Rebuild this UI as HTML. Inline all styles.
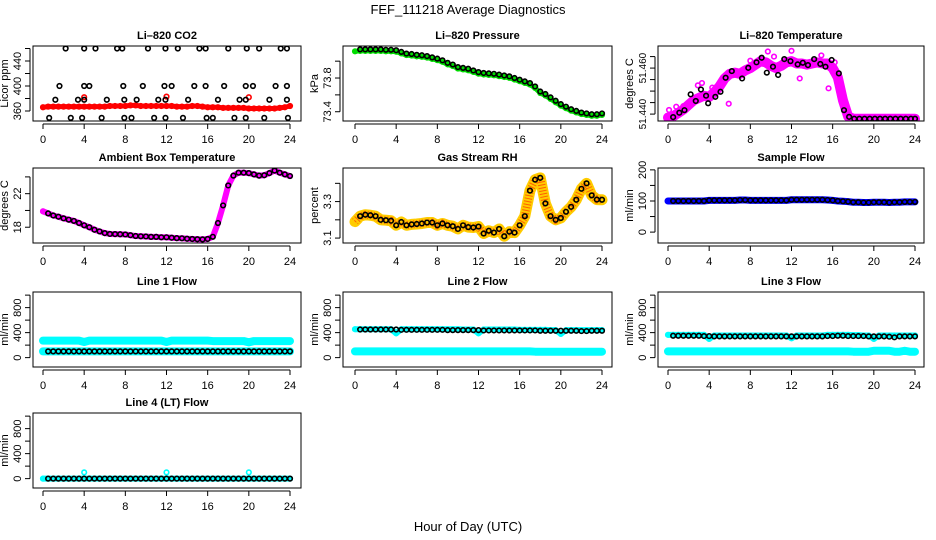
<!DOCTYPE html>
<html><head><meta charset="utf-8"><style>
html,body{margin:0;padding:0;background:#fff;}
svg{display:block;font-family:"Liberation Sans",Arial,sans-serif;}
</style></head><body>
<svg id="c" width="936" height="540" viewBox="0 0 936 540">
<text x="468" y="14" text-anchor="middle" font-size="13">FEF_111218  Average Diagnostics</text>
<text x="468" y="531" text-anchor="middle" font-size="13">Hour of Day (UTC)</text>
</svg>
<script>
const hours=[0,0.5,1,1.5,2,2.5,3,3.5,4,4.5,5,5.5,6,6.5,7,7.5,8,8.5,9,9.5,10,10.5,11,11.5,12,12.5,13,13.5,14,14.5,15,15.5,16,16.5,17,17.5,18,18.5,19,19.5,20,20.5,21,21.5,22,22.5,23,23.5,24];
const xTicks=[0,4,8,12,16,20,24];
const co2Red=[366,367,367,367,367,367,367,367,367,367,367,367,367,368,368,368,368,369,369,368,368,368,368,368,368,368,367,367,367,368,368,367,366,366,366,365,365,365,365,365,364,364,364,364,364,364,365,366,368];
const co2RedOutT=[4,12,20];
const co2RedOutV=[382,383,382];
const co2BlackT=[2.2,4.0,5.1,7.2,7.7,10.2,11.9,13.1,15.2,15.8,18.0,19.8,21.0,23.1,23.7,1.6,4.0,4.5,7.8,9.7,11.8,12.5,14.7,15.8,17.6,19.7,20.4,22.6,23.7,1.2,3.4,4.0,6.2,7.9,9.1,11.2,11.9,14.1,17.0,19.1,19.7,22.0,23.7,0.6,2.7,3.8,5.7,7.9,8.6,10.8,11.9,13.6,15.9,16.5,18.6,19.7,21.5,23.8];
const co2BlackV=[460,460,460,460,460,460,460,460,460,460,460,460,460,460,460,400,400,400,400,400,400,400,400,400,400,400,400,400,400,378,378,378,378,378,378,378,378,378,378,378,378,378,378,349,349,349,349,349,349,349,349,349,349,349,349,349,349,349];
const pressure=[74.135,74.14,74.14,74.14,74.14,74.14,74.135,74.135,74.13,74.11,74.09,74.085,74.075,74.07,74.06,74.045,74.03,74.01,73.98,73.96,73.93,73.92,73.91,73.89,73.87,73.86,73.855,73.85,73.84,73.83,73.82,73.80,73.78,73.76,73.74,73.70,73.64,73.61,73.57,73.53,73.49,73.46,73.43,73.41,73.39,73.38,73.37,73.37,73.38];
const liTemp=[51.4385,51.439,51.4405,51.442,51.444,51.446,51.447,51.448,51.4475,51.4495,51.452,51.4555,51.4575,51.458,51.4575,51.459,51.460,51.4615,51.463,51.4625,51.461,51.460,51.461,51.4625,51.463,51.462,51.462,51.4615,51.462,51.4625,51.462,51.462,51.460,51.456,51.446,51.439,51.438,51.438,51.438,51.438,51.438,51.438,51.438,51.438,51.438,51.438,51.438,51.438,51.438];
const liTempBlackT=[0.5,1.1,1.6,2.2,2.7,3.2,3.7,3.9,4.6,5.1,5.6,6.2,7.2,7.8,8.6,9.1,9.6,10.2,10.7,11.3,11.9,12.6,13.1,13.6,14.2,14.8,15.3,15.9,16.6,17.1,17.6,18.1,18.6,19.1,19.6,20.1,20.6,21.1,21.6,22.1,22.6,23.1,23.6,24];
const liTempBlackV=[51.4387,51.4406,51.4417,51.4486,51.4457,51.4507,51.448,51.4447,51.4475,51.4497,51.4558,51.4587,51.4555,51.4601,51.4625,51.4645,51.458,51.4606,51.457,51.4639,51.463,51.4616,51.4623,51.4613,51.4639,51.4618,51.4606,51.4635,51.4577,51.4417,51.4388,51.438,51.438,51.438,51.438,51.438,51.438,51.438,51.438,51.438,51.438,51.438,51.438,51.438];
const liTempOutT=[0.1,0.8,1.5,2.9,3.3,4.3,5.9,8.0,9.7,10.3,12.0,12.8,14.9,15.6,16.2,16.9];
const liTempOutV=[51.4418,51.4432,51.4435,51.4525,51.4535,51.4515,51.4445,51.4632,51.4672,51.4650,51.4675,51.4555,51.4655,51.4512,51.4625,51.4502];
const ambient=[19.9,19.65,19.4,19.25,19.06,18.9,18.75,18.5,18.23,18.0,17.7,17.5,17.3,17.2,17.18,17.16,17.14,17.05,16.95,16.92,16.9,16.85,16.85,16.8,16.8,16.75,16.7,16.68,16.63,16.6,16.57,16.55,16.6,16.86,18.5,20.6,22.98,24.15,24.5,24.5,24.45,24.3,24.15,24.2,24.45,24.75,24.5,24.3,24.1];
const rh=[3.19,3.22,3.228,3.225,3.22,3.20,3.198,3.195,3.17,3.188,3.17,3.175,3.177,3.18,3.185,3.185,3.17,3.18,3.17,3.165,3.15,3.17,3.16,3.158,3.163,3.125,3.14,3.13,3.15,3.11,3.135,3.13,3.17,3.22,3.36,3.42,3.43,3.29,3.22,3.20,3.21,3.244,3.271,3.31,3.37,3.40,3.334,3.311,3.31];
const sampleFlow=[100,100,100,100,100,100,100,100,102,102,102,102,102,102,103,103,102,102,102,102,102,102,102,102,104,104,104,104,104,104,104,103,102,100,99,98,96,96,95,95,96,96,96,95,96,96,97,97,97];
const line1Upper=[272,272,272,272,272,272,272,272,250,272,272,272,272,272,272,272,272,272,272,272,272,272,272,272,250,272,272,272,272,272,272,272,272,265,265,265,265,265,265,265,245,265,265,265,265,265,265,265,265];
const line1Lower=[100,100,100,100,100,100,100,100,100,100,100,100,100,100,100,100,100,100,100,100,100,100,100,100,100,100,100,100,100,100,100,100,100,100,100,100,100,100,100,100,100,100,100,100,100,100,100,100,100];
const line1Black=[100,100,100,100,100,100,100,100,100,100,100,100,100,100,100,100,100,100,100,100,100,100,100,100,100,100,100,100,100,100,100,100,100,100,100,100,100,100,100,100,100,100,100,100,100,100,100,100,100];
const line2Upper=[455,455,455,455,455,455,455,455,390,455,455,455,455,455,455,455,455,455,455,455,455,450,450,450,390,450,450,450,450,450,450,450,445,445,445,445,445,445,440,440,380,440,440,440,440,440,440,440,440];
const line2Lower=[100,100,100,100,100,100,100,100,100,100,100,100,100,100,100,100,100,100,100,100,100,100,100,100,100,100,100,100,100,100,100,100,100,100,100,95,95,95,95,95,95,95,95,95,95,95,95,95,95];
const line2Black=[450,450,450,450,450,450,450,450,450,445,445,445,445,445,445,445,445,445,440,440,440,440,440,440,440,435,435,435,435,435,435,435,435,435,435,435,430,430,430,430,430,430,430,430,425,425,430,430,430];
const line3Upper=[365,365,365,365,365,365,365,365,300,355,355,355,355,355,355,355,355,355,355,355,355,355,355,355,310,355,355,355,355,355,355,365,365,365,365,365,360,360,355,355,300,355,355,355,355,355,355,355,355];
const line3Lower=[100,100,100,100,100,100,100,100,100,100,100,100,100,100,100,100,100,100,100,100,100,100,100,100,100,100,100,100,100,100,100,100,100,100,100,100,95,95,95,95,110,110,110,110,95,95,110,95,95];
const line3Black=[350,350,350,350,350,350,350,345,345,340,340,340,340,340,340,340,340,340,340,340,340,340,340,340,340,340,340,340,340,340,340,345,345,350,350,345,345,345,345,340,340,340,340,335,325,340,340,340,340];
const line4Cyan=[0,0,0,0,0,0,0,0,0,0,0,0,0,0,0,0,0,0,0,0,0,0,0,0,0,0,0,0,0,0,0,0,0,0,0,0,0,0,0,0,0,0,0,0,0,0,0,0,0];
const line4OutT=[4,12,20];
const line4OutV=[100,100,100];
const line4Black=[0,0,0,0,0,0,0,0,0,0,0,0,0,0,0,0,0,0,0,0,0,0,0,0,0,0,0,0,0,0,0,0,0,0,0,0,0,0,0,0,0,0,0,0,0,0,0,0,0];

const NS="http://www.w3.org/2000/svg";
const svg=document.getElementById('c');
const BL=[33,343,658],BR=[301,612,924],X0=[43,355,668],XW=247,TOP=[46,168,292,413],H=75;
function el(t,a,p){const e=document.createElementNS(NS,t);for(const k in a)e.setAttribute(k,a[k]);(p||svg).appendChild(e);return e;}
const flowTicks=[0,200,400,600,800,1000],flowLabels=[0,400,800];
const panels=[
 {c:0,r:0,t:"Li\u2013820 CO2",yl:"Licor ppm",y0:344,y1:464,ticks:[360,380,400,420,440,460],labs:[360,400,440],
  s:[{t:hours,v:co2Red,col:"#ff0000",band:5},{t:co2RedOutT,v:co2RedOutV,col:"#ff0000"},{t:co2BlackT,v:co2BlackV,col:"#000"}]},
 {c:1,r:0,t:"Li\u2013820 Pressure",yl:"kPa",y0:73.29,y1:74.18,ticks:[73.4,73.6,73.8,74.0],labs:["73.4","73.8"],
  s:[{t:hours,v:pressure,col:"#00dd00",band:5,off:1.5},{t:hours,v:pressure,col:"#000",skip:1}]},
 {c:2,r:0,t:"Li\u2013820 Temperature",yl:"degrees C",y0:51.437,y1:51.4696,ticks:[51.44,51.445,51.45,51.455,51.46,51.465],labs:["51.440","51.460"],fs:10,
  s:[{t:hours,v:liTemp,col:"#ff00ff",band:10},{t:liTempOutT,v:liTempOutV,col:"#ff00ff"},{t:liTempBlackT,v:liTempBlackV,col:"#000"}]},
 {c:0,r:1,t:"Ambient Box Temperature",yl:"degrees C",y0:16.12,y1:25.06,ticks:[18,20,22,24],labs:[18,22],
  s:[{t:hours,v:ambient,col:"#ff00ff",band:6},{t:hours,v:ambient,col:"#000",skip:1}]},
 {c:1,r:1,t:"Gas Stream RH",yl:"percent",y0:3.073,y1:3.484,ticks:[3.1,3.2,3.3,3.4],labs:["3.1","3.3"],
  s:[{t:hours,v:rh,col:"#ffcc00",band:11,dot:"#ff3300"},{t:hours,v:rh,col:"#000",skip:1}]},
 {c:2,r:1,t:"Sample Flow",yl:"ml/min",y0:-35,y1:206,ticks:[0,50,100,150,200],labs:[0,100,200],
  s:[{t:hours,v:sampleFlow,col:"#0000ff",band:7},{t:hours,v:sampleFlow,col:"#000",skip:1}]},
 {c:0,r:2,t:"Line 1 Flow",yl:"ml/min",y0:-150,y1:1050,ticks:flowTicks,labs:flowLabels,
  s:[{t:hours,v:line1Upper,col:"#00ffff",band:8},{t:hours,v:line1Lower,col:"#00ffff",band:8},{t:hours,v:line1Black,col:"#000",skip:1}]},
 {c:1,r:2,t:"Line 2 Flow",yl:"ml/min",y0:-150,y1:1050,ticks:flowTicks,labs:flowLabels,
  s:[{t:hours,v:line2Upper,col:"#00ffff",band:6},{t:hours,v:line2Lower,col:"#00ffff",band:8},{t:hours,v:line2Black,col:"#000",skip:1}]},
 {c:2,r:2,t:"Line 3 Flow",yl:"ml/min",y0:-150,y1:1050,ticks:flowTicks,labs:flowLabels,
  s:[{t:hours,v:line3Upper,col:"#00ffff",band:6},{t:hours,v:line3Lower,col:"#00ffff",band:8},{t:hours,v:line3Black,col:"#000",skip:1}]},
 {c:0,r:3,t:"Line 4 (LT) Flow",yl:"ml/min",y0:-150,y1:1050,ticks:flowTicks,labs:flowLabels,
  s:[{t:hours,v:line4Cyan,col:"#00ffff",band:6},{t:line4OutT,v:line4OutV,col:"#00ffff"},{t:hours,v:line4Black,col:"#000",skip:1}]}
];
panels.forEach((p,pi)=>{
 const L=BL[p.c],R=BR[p.c],T=TOP[p.r],B=T+H;
 const g=el('g',{});
 
 
 const xs=h=>X0[p.c]+h*XW/24;
 const ys=v=>B-(v-p.y0)/(p.y1-p.y0)*H;
 const ti=el('text',{x:(L+R)/2,y:T-7,'text-anchor':'middle','font-size':11,'font-weight':'bold'},g);ti.textContent=p.t;
 
 
 const xa=el('g',{},g);
 
 
 el('line',{x1:xs(0),x2:xs(24),y1:B+3,y2:B+3,stroke:'#000'},xa);
 xTicks.forEach(h=>{el('line',{x1:xs(h),x2:xs(h),y1:B+3,y2:B+8,stroke:'#000'},xa);
  const t=el('text',{x:xs(h),y:B+22,'text-anchor':'middle','font-size':11},xa);t.textContent=h;});
 const ya=el('g',{},g);
 
 
 el('line',{x1:L-3,x2:L-3,y1:ys(p.ticks[0]),y2:ys(p.ticks[p.ticks.length-1]),stroke:'#000'},ya);
 p.ticks.forEach(v=>el('line',{x1:L-8,x2:L-3,y1:ys(v),y2:ys(v),stroke:'#000'},ya));
 p.labs.forEach(v=>{const y=ys(+v);const t=el('text',{x:L-12,y:y,'text-anchor':'middle','font-size':p.fs||11,transform:`rotate(-90 ${L-12} ${y})`},ya);t.textContent=v;});
 const yt=el('text',{x:L-25,y:(T+B)/2,'text-anchor':'middle','font-size':11,transform:`rotate(-90 ${L-25} ${(T+B)/2})`},g);yt.textContent=p.yl;
 
 
 const cp='cp'+pi;
 const d=el('clipPath',{id:cp},g);el('rect',{x:L,y:T,width:R-L,height:H},d);
 const sg=el('g',{'clip-path':`url(#${cp})`},g);
 p.s.forEach((s,si)=>{
  const gg=el('g',{},sg);
  
  
  const off=s.off||0;
  if(s.band){
   const pts=s.t.map((h,i)=>xs(h)+','+(ys(s.v[i])+off)).join(' ');
   el('polyline',{points:pts,fill:'none',stroke:s.col,'stroke-width':s.band,'stroke-linejoin':'round','stroke-linecap':'round'},gg);
   if(s.dot) el('polyline',{points:pts,fill:'none',stroke:s.dot,'stroke-width':s.band*0.7,'stroke-dasharray':'1 2',opacity:0.7},gg);
  }
  s.t.forEach((h,i)=>{ if(i<(s.skip||0))return;
   const c=el('circle',{cx:xs(h),cy:ys(s.v[i])+off,r:2.3,fill:'none',stroke:s.col,'stroke-width':1.6},gg);
   
   
  });
 });
 el('rect',{x:L,y:T,width:R-L,height:H,fill:'none',stroke:'#000','stroke-width':1},g);
});
</script>
</body></html>
